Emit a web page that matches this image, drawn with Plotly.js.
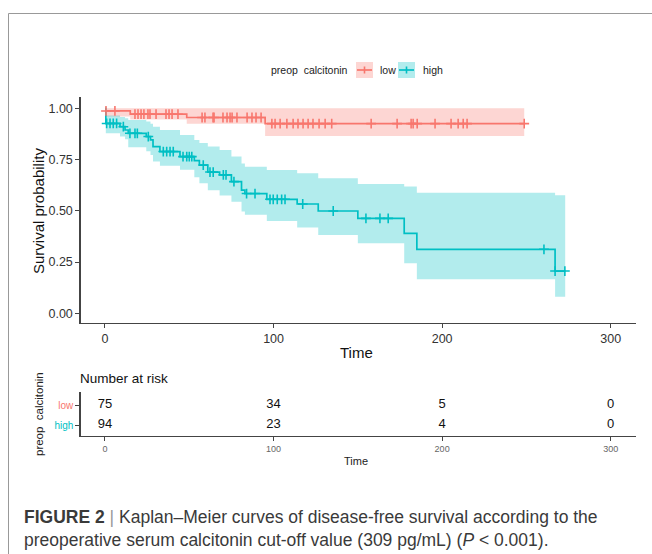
<!DOCTYPE html>
<html>
<head>
<meta charset="utf-8">
<script src="https://cdn.plot.ly/plotly-3.0.1.min.js"></script>
<style>html,body{margin:0;padding:0;background:#fff;}#chart{width:652px;height:554px;}</style>
</head>
<body>
<div id="chart"></div>
<script>
// ---- data ----
const lowTimes = [0, 15, 48.5, 95];
const lowSurv = [0.987, 0.971, 0.955, 0.925];
const lowUpper = [1.0, 1.0, 1.0, 1.0];
const lowLower = [0.96, 0.945, 0.925, 0.865];
const lowEnd = 248.7;
const lowCensor = [0.6, 5.9, 17.8, 19.6, 21.4, 23.1, 25.5, 26.7, 30.3, 36.2, 38, 39.8, 43.3,
  57.6, 59.3, 64.1, 64.7, 70, 72.4, 74.2, 75.4, 78.3, 84.3, 87.2, 89.6, 92.6,
  99, 100.9, 103.9, 107.9, 111.6, 114.5, 117.5, 120.5, 123.4, 127, 130.6, 134.5,
  157.9, 173.3, 181.6, 182.8, 185.2, 195.8, 205.3, 209.5, 212.5, 214.8, 248.7];

const highTimes = [0, 0.5, 8.9, 11.9, 13.8, 24.5, 27, 28.5, 32.6, 44.5, 53, 56, 61, 68, 75, 81, 83, 96, 114, 126.5, 150, 177.5, 185, 267];
const highSurv = [1.0, 0.926, 0.910, 0.894, 0.878, 0.862, 0.846, 0.813, 0.789, 0.764, 0.745, 0.723, 0.689, 0.675, 0.642, 0.601, 0.584, 0.556, 0.533, 0.499, 0.463, 0.390, 0.312, 0.206];
const highUpper = [1.0, 0.965, 0.958, 0.951, 0.943, 0.935, 0.925, 0.91, 0.894, 0.87, 0.845, 0.83, 0.813, 0.797, 0.765, 0.73, 0.715, 0.699, 0.683, 0.659, 0.631, 0.618, 0.588, 0.576];
const highLower = [1.0, 0.878, 0.862, 0.849, 0.81, 0.79, 0.772, 0.74, 0.72, 0.70, 0.663, 0.634, 0.60, 0.575, 0.544, 0.496, 0.48, 0.45, 0.418, 0.382, 0.341, 0.244, 0.166, 0.081];
const highEnd = 273;
const highCensor = [1.0, 3.0, 4.9, 6.9, 10.9, 14.8, 17.8, 19.2, 25.7, 34.6, 36.6, 38.6, 40.5,
  46.3, 48.5, 50, 51.5, 58.3, 62.3, 64.2, 70.2, 71.8, 76.5, 84, 89, 97.9, 99.8, 102.2,
  104.8, 106.8, 117.3, 135.4, 154.8, 163.1, 168, 260.4, 267, 272.8];

const groups = ["low", "high"];
const riskTimes = [0, 100, 200, 300];
const riskLow = [75, 34, 5, 0];
const riskHigh = [94, 23, 4, 0];
const xTicks = [0, 100, 200, 300];
const yTicks = [0, 0.25, 0.5, 0.75, 1];

// ---- styling ----
const RED = "#F8766D", TEAL = "#00BFC4";
const RED_F = "rgba(248,118,109,0.3)", TEAL_F = "rgba(0,191,196,0.3)";
const W = 652, H = 554;
const px = v => v / W, py = v => 1 - v / H;
const FONT = "Liberation Sans, Arial, sans-serif";

function ext(arr, end) { return arr.concat([end]); }
function extV(arr) { return arr.concat([arr[arr.length - 1]]); }
function stepAt(times, vals, t) {
  let v = vals[0];
  for (let i = 0; i < times.length; i++) if (times[i] <= t) v = vals[i];
  return v;
}

function ribbon(times, lo, up, end, fill) {
  return [
    { x: ext(times, end), y: extV(lo), mode: "lines", line: { shape: "hv", width: 0, color: "rgba(0,0,0,0)" }, hoverinfo: "skip", showlegend: false, xaxis: "x", yaxis: "y" },
    { x: ext(times, end), y: extV(up), mode: "lines", line: { shape: "hv", width: 0, color: "rgba(0,0,0,0)" }, fill: "tonexty", fillcolor: fill, hoverinfo: "skip", showlegend: false, xaxis: "x", yaxis: "y" }
  ];
}
function curve(times, s, end, color) {
  return { x: ext(times, end), y: extV(s), mode: "lines", line: { shape: "hv", width: 1.7, color: color }, showlegend: false, xaxis: "x", yaxis: "y" };
}
function censor(times, s, cens, color) {
  return { x: cens, y: cens.map(t => stepAt(times, s, t)), mode: "markers",
    marker: { symbol: "cross-thin", size: 7, color: color, line: { width: 1.6, color: color } },
    showlegend: false, xaxis: "x", yaxis: "y" };
}

const traces = [].concat(
  ribbon(lowTimes, lowLower, lowUpper, lowEnd, RED_F),
  ribbon(highTimes, highLower, highUpper, highEnd, TEAL_F),
  [curve(lowTimes, lowSurv, lowEnd, RED), curve(highTimes, highSurv, highEnd, TEAL),
   censor(lowTimes, lowSurv, lowCensor, RED), censor(highTimes, highSurv, highCensor, TEAL)],
  [
    { x: riskTimes, y: riskTimes.map(() => 2), text: riskLow.map(String), mode: "text", textposition: "middle center", textfont: { size: 13, color: "#111", family: FONT }, showlegend: false, xaxis: "x2", yaxis: "y2" },
    { x: riskTimes, y: riskTimes.map(() => 1), text: riskHigh.map(String), mode: "text", textposition: "middle center", textfont: { size: 13, color: "#111", family: FONT }, showlegend: false, xaxis: "x2", yaxis: "y2" }
  ]
);

const xdom = [px(80.7), px(636)];
const axisCommon = { showgrid: false, zeroline: false, showline: true, linecolor: "#444", linewidth: 1.4, ticks: "outside", ticklen: 4, tickcolor: "#444", tickwidth: 1 };

const shapes = [
  { type: "line", xref: "paper", yref: "paper", x0: px(8.5), x1: 1, y0: py(13.5), y1: py(13.5), line: { color: "#999", width: 1 } },
  { type: "line", xref: "paper", yref: "paper", x0: px(8.5), x1: px(8.5), y0: py(13.5), y1: 0, line: { color: "#999", width: 1 } },
  // legend keys
  { type: "rect", xref: "paper", yref: "paper", x0: px(356), x1: px(373), y0: py(78), y1: py(62), fillcolor: RED_F, line: { width: 0 } },
  { type: "line", xref: "paper", yref: "paper", x0: px(357), x1: px(372), y0: py(70), y1: py(70), line: { color: RED, width: 1.7 } },
  { type: "line", xref: "paper", yref: "paper", x0: px(364.5), x1: px(364.5), y0: py(66.5), y1: py(73.5), line: { color: RED, width: 1.6 } },
  { type: "rect", xref: "paper", yref: "paper", x0: px(398), x1: px(415), y0: py(78), y1: py(62), fillcolor: TEAL_F, line: { width: 0 } },
  { type: "line", xref: "paper", yref: "paper", x0: px(399), x1: px(414), y0: py(70), y1: py(70), line: { color: TEAL, width: 1.7 } },
  { type: "line", xref: "paper", yref: "paper", x0: px(406.5), x1: px(406.5), y0: py(66.5), y1: py(73.5), line: { color: TEAL, width: 1.6 } }
];

function ann(text, x, y, opts) {
  return Object.assign({ text: text, xref: "paper", yref: "paper", x: px(x), y: py(y), showarrow: false, xanchor: "center", yanchor: "middle", font: { family: FONT, size: 12, color: "#222" } }, opts || {});
}

const annotations = [
  ann("preop\u00a0 calcitonin", 350, 70, { xanchor: "right", font: { family: FONT, size: 10.5, color: "#222" } }),
  ann(groups[0], 378, 70, { xanchor: "left", font: { family: FONT, size: 10.5, color: "#222" } }),
  ann(groups[1], 421, 70, { xanchor: "left", font: { family: FONT, size: 10.5, color: "#222" } }),
  ann("Survival probability", 39, 211, { textangle: -90, font: { family: FONT, size: 15, color: "#111" } }),
  ann("Time", 357, 352, { font: { family: FONT, size: 15, color: "#111" } }),
  ann("Number at risk", 78, 378, { xanchor: "left", font: { family: FONT, size: 13.5, color: "#111" } }),
  ann("preop\u00a0 calcitonin", 39, 414, { textangle: -90, font: { family: FONT, size: 11.5, color: "#222" } }),
  ann("Time", 356, 461, { font: { family: FONT, size: 11, color: "#222" } }),
  ann("<b>FIGURE 2</b> <span style=\"color:#999\">|</span> Kaplan\u2013Meier curves of disease-free survival according to the", 22, 517, { xanchor: "left", font: { family: FONT, size: 17.5, color: "#3a3a3a" } }),
  ann("preoperative serum calcitonin cut-off value (309 pg/mL) (<i>P</i> &lt; 0.001).", 22, 540, { xanchor: "left", font: { family: FONT, size: 17.5, color: "#3a3a3a" } })
];

const layout = {
  width: W, height: H,
  margin: { l: 0, r: 0, t: 0, b: 0 },
  paper_bgcolor: "#fff", plot_bgcolor: "rgba(0,0,0,0)",
  showlegend: false,
  font: { family: FONT },
  xaxis: Object.assign({}, axisCommon, { domain: xdom, range: [-14.4, 315], tickvals: xTicks, anchor: "y", tickfont: { size: 12.5, color: "#333", family: FONT } }),
  yaxis: Object.assign({}, axisCommon, { domain: [py(322.7), py(97)], range: [-0.046, 1.055], tickvals: yTicks, tickformat: ".2f", anchor: "x", tickfont: { size: 12.5, color: "#333", family: FONT } }),
  xaxis2: Object.assign({}, axisCommon, { domain: xdom, range: [-14.4, 315], tickvals: xTicks, anchor: "y2", tickfont: { size: 9, color: "#666", family: FONT } }),
  yaxis2: Object.assign({}, axisCommon, { domain: [py(436), py(392)], range: [0.45, 2.65], tickvals: [2, 1],
    ticktext: ["<span style=\"color:" + RED + "\">" + groups[0] + "</span>", "<span style=\"color:" + TEAL + "\">" + groups[1] + "</span>"],
    anchor: "x2", tickfont: { size: 10, family: FONT } }),
  shapes: shapes,
  annotations: annotations
};

Plotly.newPlot("chart", traces, layout, { displayModeBar: false, staticPlot: true });
</script>
</body>
</html>
